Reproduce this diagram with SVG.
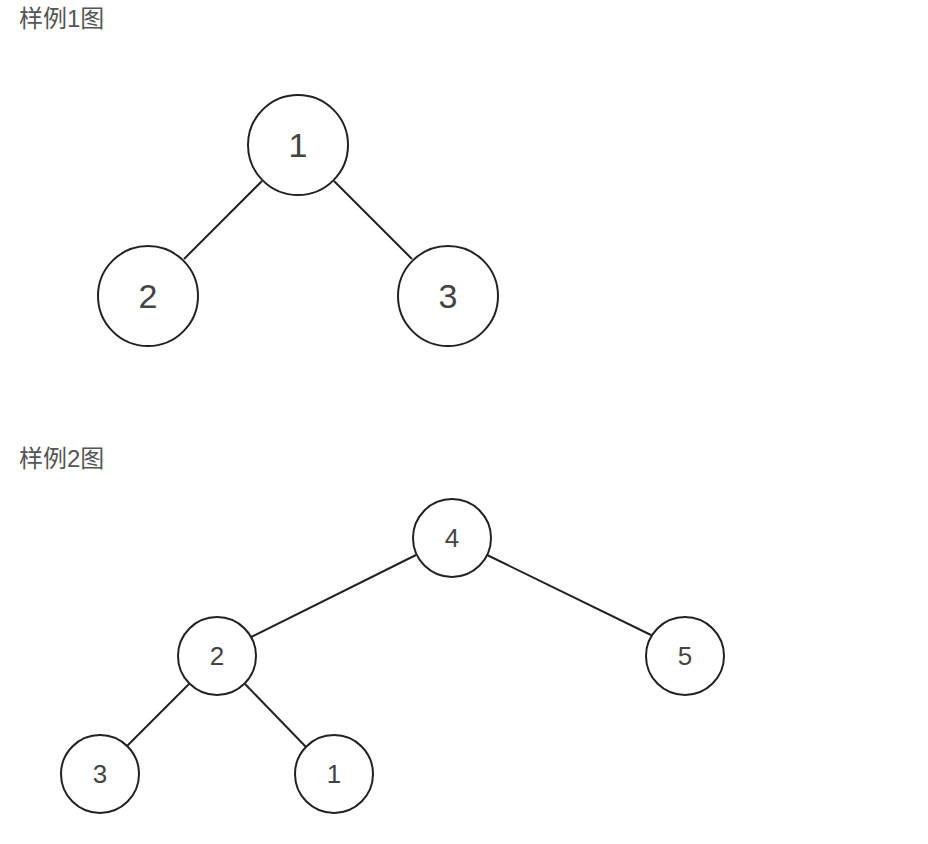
<svg xmlns="http://www.w3.org/2000/svg" width="928" height="844" viewBox="0 0 928 844">
<style>
.n{fill:#fff;stroke:#222;stroke-width:2}
.t{font-family:"Liberation Sans",Arial,sans-serif;fill:#444;text-anchor:middle;dominant-baseline:central}
.l{stroke:#222;stroke-width:2}
.h{font-family:"Liberation Sans","Noto Sans CJK SC",sans-serif;fill:#555;font-size:24px}
</style>
<rect width="928" height="844" fill="#fff"/>
<text class="h" x="19" y="27">样例1图</text>
<text class="h" x="19" y="467">样例2图</text>
<g id="edges">
<line class="l" x1="262" y1="181" x2="184" y2="259"/>
<line class="l" x1="334" y1="181" x2="412" y2="259"/>
<line class="l" x1="416" y1="555" x2="251" y2="637"/>
<line class="l" x1="487" y1="555" x2="651" y2="635"/>
<line class="l" x1="189" y1="684" x2="126" y2="747"/>
<line class="l" x1="245" y1="684" x2="306" y2="747"/>
</g>
<g id="n1"><circle class="n" cx="298" cy="145" r="50"/><text class="t" x="298" y="145" font-size="34">1</text></g>
<g id="n2"><circle class="n" cx="148" cy="296" r="50"/><text class="t" x="148" y="296" font-size="34">2</text></g>
<g id="n3"><circle class="n" cx="448" cy="296" r="50"/><text class="t" x="448" y="296" font-size="34">3</text></g>
<g id="m4"><circle class="n" cx="452" cy="538" r="39"/><text class="t" x="452" y="538" font-size="26">4</text></g>
<g id="m2"><circle class="n" cx="217" cy="656" r="39"/><text class="t" x="217" y="656" font-size="26">2</text></g>
<g id="m5"><circle class="n" cx="685" cy="656" r="39"/><text class="t" x="685" y="656" font-size="26">5</text></g>
<g id="m3"><circle class="n" cx="100" cy="774" r="39"/><text class="t" x="100" y="774" font-size="26">3</text></g>
<g id="m1"><circle class="n" cx="334" cy="774" r="39"/><text class="t" x="334" y="774" font-size="26">1</text></g>
</svg>
